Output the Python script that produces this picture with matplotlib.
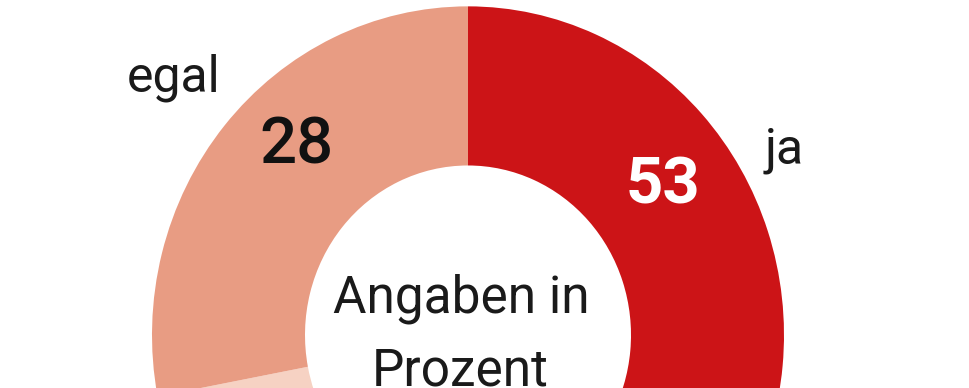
import matplotlib
matplotlib.use("Agg")
import matplotlib.pyplot as plt

# survey shares, in percent (clockwise from the top)
labels = ["ja", "nein", "egal"]
values = [53, 19, 28]
colors = ["#cc1417", "#f6d2c3", "#e89c83"]

W, H = 970, 388
VSTRETCH = 1.04  # the source image is slightly taller than wide

fig = plt.figure(figsize=(W / 100, H / 100), dpi=100)
ax = fig.add_axes([0, 0, 1, 1])

outer = 316
inner = 163
cx, cy = 468, (H - 335) / VSTRETCH

ax.pie(values, colors=colors, startangle=90, counterclock=False,
       radius=outer, center=(cx, cy),
       wedgeprops=dict(width=outer - inner, linewidth=0))
ax.set_aspect("auto")
ax.set_xlim(0, W)
ax.set_ylim(0, H / VSTRETCH)
ax.axis("off")

font = ["Roboto", "DejaVu Sans"]


def put(text, x, y, **kw):
    # x, y in pixels from the top left corner, y is the baseline
    ax.text(x / W, 1 - y / H, text, transform=ax.transAxes,
            va="baseline", family=font, **kw)


put("egal", 127, 92, fontsize=36, color="#1a1a1a", ha="left")
put("ja", 765, 163, fontsize=36, color="#1a1a1a", ha="left")
put(str(values[2]), 297, 163, fontsize=47, color="#111111",
    ha="center", fontweight="medium")
put(str(values[0]), 663, 203, fontsize=47, color="white",
    ha="center", fontweight="bold")
put("Angaben in", 461, 313, fontsize=37, color="#1a1a1a", ha="center")
put("Prozent", 460, 385, fontsize=37, color="#1a1a1a", ha="center")

fig.savefig("out.png", dpi=100)
